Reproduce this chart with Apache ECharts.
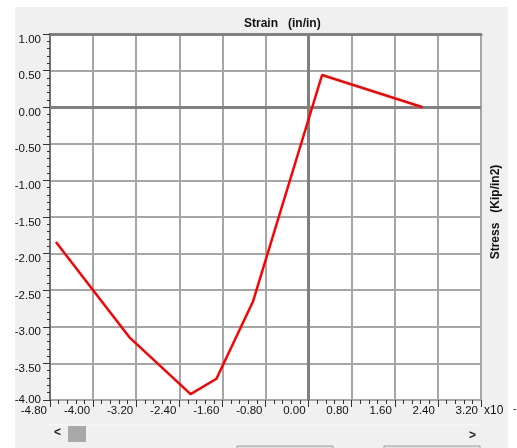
<!DOCTYPE html>
<html>
<head>
<meta charset="utf-8">
<script src="https://cdn.jsdelivr.net/npm/echarts@6/dist/echarts.min.js"></script>
<style>
  html, body { margin: 0; padding: 0; background: #fff; }
  #main { width: 517px; height: 448px; }
</style>
</head>
<body>
<div id="main"></div>
<script>
// strain (x) and stress (y)
var strainX = [-4.69, -3.33, -2.19, -1.71, -1.03, 0.25, 2.12];
var stressY = [-1.84, -3.14, -3.92, -3.71, -2.65, 0.44, 0.0];

var xMin = -4.8, xMax = 3.2, xStep = 0.8;
var yMin = -4.0, yMax = 1.0, yStep = 0.5;

var points = [];
for (var i = 0; i < strainX.length; i++) {
  points.push([strainX[i], stressY[i]]);
}

var myChart = echarts.init(document.getElementById("main"), null, { renderer: "canvas" });

var labelFont = "Liberation Sans, Arial, sans-serif";

var option = {
  animation: false,
  backgroundColor: "#ffffff",
  textStyle: { fontFamily: labelFont },
  title: {
    text: "Strain   (in/in)",
    left: 239,
    top: 13,
    textStyle: { fontSize: 12, fontWeight: "bold", color: "#111", fontFamily: labelFont },
  },
  graphic: [
    {
      type: "rect",
      z: -10,
      silent: true,
      shape: { x: 15, y: 7, width: 493, height: 441 },
      style: { fill: "#f0f0f0" },
    },
    {
      type: "text",
      x: 496,
      y: 212,
      rotation: Math.PI / 2,
      style: {
        text: "Stress   (Kip/in2)",
        font: "bold 12px " + labelFont,
        fill: "#111",
        align: "center",
        verticalAlign: "middle",
      },
    },
    {
      type: "text",
      x: 484,
      y: 405,
      style: { text: "x10", font: "12px " + labelFont, fill: "#111" },
    },
    {
      type: "text",
      x: 513,
      y: 403,
      style: { text: "-", font: "11px " + labelFont, fill: "#111" },
    },
    {
      type: "line",
      shape: { x1: 48, y1: 425, x2: 482, y2: 425 },
      style: { stroke: "#fafafa", lineWidth: 1 },
    },
    {
      type: "text",
      x: 54,
      y: 427,
      style: { text: "<", font: "bold 12px " + labelFont, fill: "#222" },
    },
    {
      type: "rect",
      shape: { x: 68, y: 426, width: 18, height: 16 },
      style: { fill: "#a8a8a8" },
    },
    {
      type: "text",
      x: 469,
      y: 430,
      style: { text: ">", font: "bold 12px " + labelFont, fill: "#222" },
    },
    {
      type: "rect",
      shape: { x: 237, y: 446, width: 96, height: 6 },
      style: { fill: "#e2e2e2", stroke: "#a0a0a0", lineWidth: 1 },
    },
    {
      type: "rect",
      shape: { x: 384, y: 446, width: 96, height: 6 },
      style: { fill: "#e2e2e2", stroke: "#a0a0a0", lineWidth: 1 },
    },
  ],
  grid: {
    left: 50,
    right: 36,
    top: 34,
    bottom: 48,
    show: true,
    backgroundColor: "#ffffff",
    borderWidth: 0,
  },
  xAxis: [
    {
      type: "value",
      min: xMin,
      max: xMax,
      interval: xStep,
      position: "bottom",
      axisLine: { show: false, onZero: false },
      axisTick: { show: true, length: 7, lineStyle: { color: "#333", width: 1 } },
      minorTick: { show: true, splitNumber: 5, length: 4, lineStyle: { color: "#333", width: 1 } },
      minorSplitLine: { show: false },
      axisLabel: {
        show: true,
        margin: 5,
        align: "right",
        padding: [0, 3, 0, 0],
        fontSize: 11.5,
        color: "#111",
        fontFamily: labelFont,
        showMinLabel: true,
        showMaxLabel: true,
        formatter: function (v) { return v.toFixed(2); },
      },
      splitLine: { show: true, lineStyle: { color: "#a6a6a6", width: 2 } },
    },
    {
      type: "value",
      min: xMin,
      max: xMax,
      interval: xStep,
      position: "top",
      axisLine: { show: true, onZero: false, lineStyle: { color: "#808080", width: 3 } },
      axisTick: { show: false },
      axisLabel: { show: false },
      splitLine: { show: false },
    },
  ],
  yAxis: {
    type: "value",
    min: yMin,
    max: yMax,
    interval: yStep,
    axisLine: { show: true, onZero: false, lineStyle: { color: "#707070", width: 2 } },
    axisTick: { show: true, length: 7, lineStyle: { color: "#333", width: 1 } },
    minorTick: { show: true, splitNumber: 5, length: 3, lineStyle: { color: "#333", width: 1 } },
    axisLabel: {
      margin: 9,
      fontSize: 11.5,
      lineHeight: 11,
      color: "#111",
      fontFamily: labelFont,
      verticalAlign: "middle",
      formatter: function (v) {
        // labels sit a little below their tick, except the bottom one
        return v === yMin ? v.toFixed(2) : "\n" + v.toFixed(2);
      },
    },
    splitLine: { show: true, lineStyle: { color: "#a6a6a6", width: 2 } },
  },
  series: [
    {
      name: "Stress",
      type: "line",
      data: points,
      showSymbol: false,
      symbol: "none",
      lineStyle: { color: "#ff0000", width: 2.5 },
      z: 5,
      markLine: {
        silent: true,
        symbol: "none",
        label: { show: false },
        lineStyle: { color: "#808080", width: 3, type: "solid" },
        data: [{ xAxis: 0 }, { yAxis: 0 }],
        z: 3,
      },
    },
  ],
};

myChart.setOption(option);
</script>
</body>
</html>
